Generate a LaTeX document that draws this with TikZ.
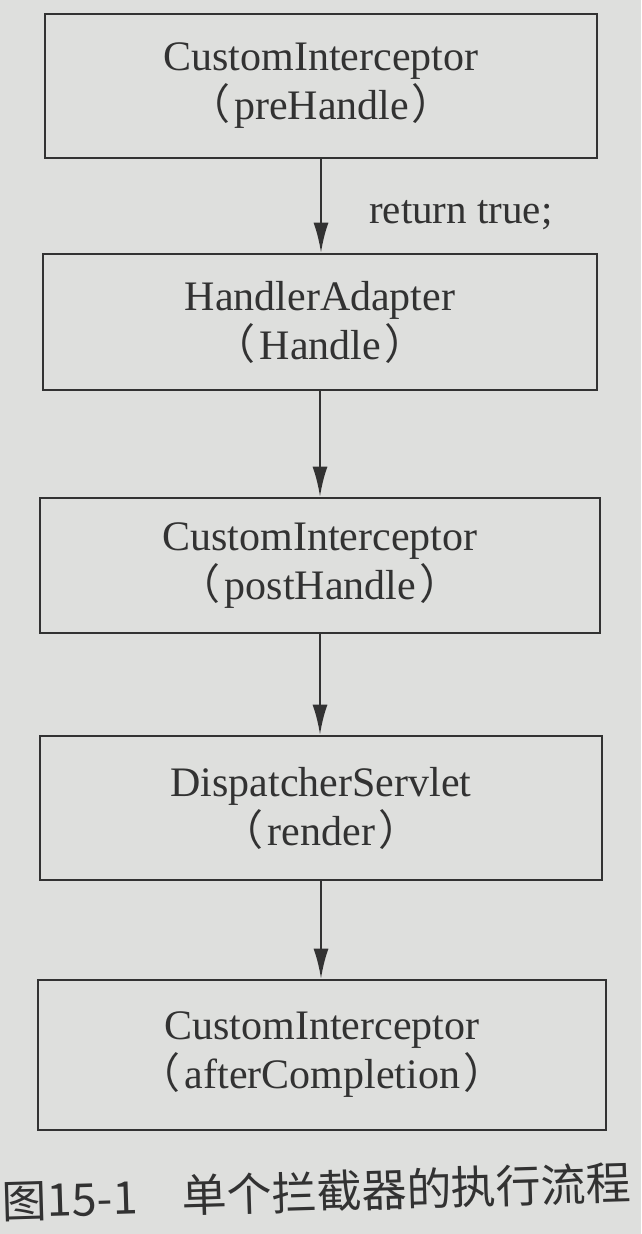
\documentclass[tikz,border=0pt]{standalone}
\usepackage{fontspec}
\setmainfont{Liberation Serif}
\newfontfamily\cjk{Noto Sans CJK SC}
\usetikzlibrary{arrows.meta}
\definecolor{paper}{RGB}{222,223,221}
\definecolor{ink}{RGB}{50,50,50}
\newcommand{\lpar}{{\cjk （}\hspace{4pt}}
\newcommand{\rpar}{\hspace{3pt}{\cjk ）}}
\begin{document}
\begin{tikzpicture}[x=1pt,y=-1pt,
  flowbox/.style={draw=ink, line width=2.6pt, align=center, text=ink,
    inner sep=0pt, font=\fontsize{42}{49}\selectfont},
  flowarrow/.style={draw=ink, line width=2.4pt, -{Latex[length=30pt,width=15pt]}},
  note/.style={text=ink, font=\fontsize{41}{49}\selectfont, inner sep=0pt},
  caption/.style={text=ink, font=\cjk\fontsize{45}{45}\selectfont, inner sep=0pt}]
\fill[paper] (0,0) rectangle (641,1234);
\useasboundingbox (0,0) rectangle (641,1234);

\node[flowbox, minimum width=552pt, minimum height=144pt] (b1) at (321,86)
  {CustomInterceptor\\\lpar preHandle\rpar};
\node[flowbox, minimum width=554pt, minimum height=136pt] (b2) at (320,322)
  {HandlerAdapter\\\lpar Handle\rpar};
\node[flowbox, minimum width=560pt, minimum height=135pt] (b3) at (320,565.5)
  {CustomInterceptor\\\lpar postHandle\rpar};
\node[flowbox, minimum width=562pt, minimum height=144pt] (b4) at (321,808)
  {DispatcherServlet\\\lpar render\rpar};
\node[flowbox, minimum width=568pt, minimum height=150pt] (b5) at (322,1055)
  {CustomInterceptor\\\lpar afterCompletion\rpar};

\draw[flowarrow] (b1.south) -- (b1.south |- b2.north);
\draw[flowarrow] (b2.south) -- (b2.south |- b3.north);
\draw[flowarrow] (b3.south) -- (b3.south |- b4.north);
\draw[flowarrow] (b4.south) -- (b4.south |- b5.north);

\node[note, anchor=west] (ret) at (369,215) {return true;};

\node[caption, anchor=west, rotate=1.7] (cap) at (2,1201)
  {图15-1\hspace{44pt}单个拦截器的执行流程};
\end{tikzpicture}
\end{document}
